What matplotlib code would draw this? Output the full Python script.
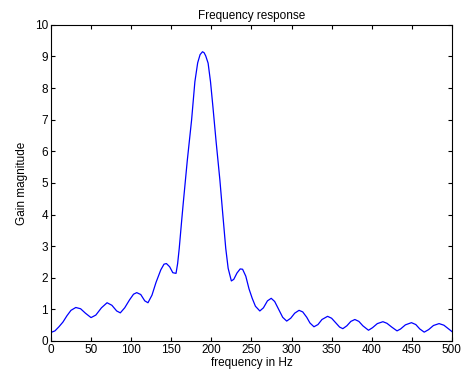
"""Frequency response plot, MATLAB-like style."""

import matplotlib
matplotlib.use("Agg")
import matplotlib.pyplot as plt

# Readings: frequency (Hz) and gain magnitude
freq_hz = [0, 5, 10, 15, 20, 25, 31, 37, 43, 50, 56, 63, 70, 76, 82, 86.5,
           92, 98, 103, 107, 112, 117, 121, 126, 131, 137, 141, 144, 148, 152,
           156, 158, 160, 163, 165, 170, 175.4, 179.5, 183, 186, 189, 191, 193,
           196, 199, 202, 206, 210.7, 214, 218, 221, 225, 228, 232, 236, 239,
           243, 247, 251, 255, 260.5, 265, 270, 274.7, 279, 284, 289, 294, 299,
           304, 309.4, 314, 319, 323, 328, 333, 338, 345, 350, 355, 360, 364,
           369, 374, 379, 384, 389, 396, 401, 407, 414, 419, 425, 431.6, 436,
           442, 449.6, 455, 460, 465.5, 471, 477, 484, 490, 495, 500]
gain = [0.27, 0.32, 0.45, 0.60, 0.80, 0.97, 1.06, 1.02, 0.88, 0.74, 0.82, 1.05,
        1.21, 1.13, 0.95, 0.89, 1.05, 1.30, 1.48, 1.53, 1.47, 1.27, 1.21, 1.45,
        1.85, 2.25, 2.43, 2.45, 2.35, 2.16, 2.14, 2.45, 2.93, 3.8, 4.36, 5.7,
        6.99, 8.2, 8.8, 9.06, 9.15, 9.12, 9.02, 8.79, 8.2, 7.41, 6.3, 5.09,
        4.1, 2.93, 2.3, 1.9, 1.95, 2.15, 2.28, 2.27, 2.05, 1.65, 1.35, 1.1,
        0.95, 1.05, 1.27, 1.35, 1.25, 1.0, 0.75, 0.63, 0.72, 0.88, 0.97, 0.92,
        0.75, 0.57, 0.45, 0.52, 0.68, 0.78, 0.72, 0.58, 0.44, 0.39, 0.48, 0.62,
        0.68, 0.62, 0.48, 0.34, 0.42, 0.55, 0.61, 0.56, 0.44, 0.32, 0.38, 0.51,
        0.58, 0.52, 0.38, 0.28, 0.36, 0.49, 0.55, 0.5, 0.4, 0.30]

x_ticks = list(range(0, 501, 50))
y_ticks = list(range(0, 11))

plt.rcParams["font.family"] = ["Liberation Sans", "DejaVu Sans"]
fs = 8.5

fig = plt.figure(figsize=(4.63, 3.77), dpi=100)
ax = fig.add_axes([0.110, 0.0955, 0.866, 0.8385])

ax.plot(freq_hz, gain, color="#0000ff", linewidth=0.9)

ax.set_xlim(0, 500)
ax.set_ylim(0, 10)
ax.set_xticks(x_ticks)
ax.set_yticks(y_ticks)
ax.tick_params(direction="in", top=True, right=True, length=3, width=0.8,
               pad=2, labelsize=fs)
for spine in ax.spines.values():
    spine.set_linewidth(0.8)

ax.set_title("Frequency response", fontsize=fs, pad=4)
ax.set_xlabel("frequency in Hz", fontsize=fs, labelpad=1)
ax.set_ylabel("Gain magnitude", fontsize=fs, labelpad=5)

fig.savefig("out.png", dpi=100)
